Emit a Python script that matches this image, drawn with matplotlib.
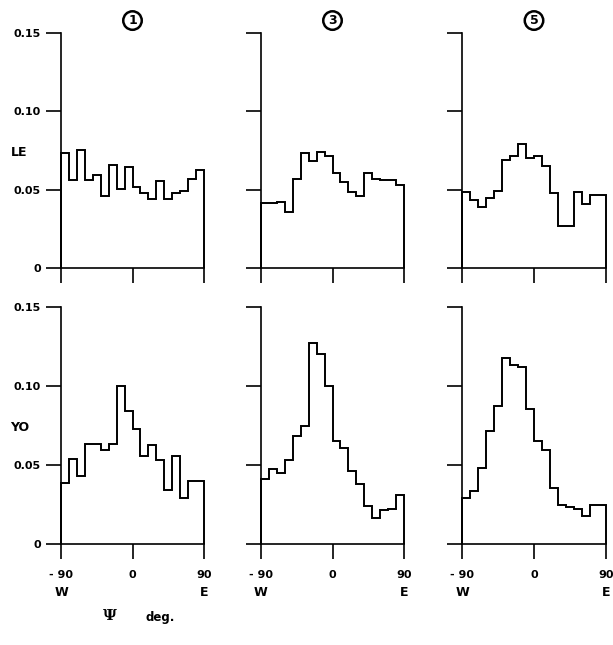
import numpy as np
import matplotlib
matplotlib.use("Agg")
import matplotlib.pyplot as plt

# 10-degree bins from -90 (W) to 90 (E)
edges = np.arange(-90, 91, 10)

le_1 = [0.0736, 0.0562, 0.0753, 0.0562, 0.0594, 0.0461, 0.0655, 0.0507, 0.0645,
        0.0514, 0.0478, 0.0440, 0.0556, 0.0440, 0.0478, 0.0493, 0.0571, 0.0624]
le_3 = [0.0414, 0.0414, 0.0423, 0.0359, 0.0571, 0.0731, 0.0683, 0.0740, 0.0714,
        0.0609, 0.0550, 0.0488, 0.0461, 0.0605, 0.0567, 0.0562, 0.0562, 0.0531]
le_5 = [0.0485, 0.0432, 0.0390, 0.0449, 0.0491, 0.0690, 0.0717, 0.0791, 0.0702,
        0.0717, 0.0654, 0.0481, 0.0270, 0.0270, 0.0485, 0.0411, 0.0468, 0.0464]
yo_1 = [0.0389, 0.0537, 0.0432, 0.0632, 0.0632, 0.0596, 0.0632, 0.1002, 0.0844,
        0.0728, 0.0554, 0.0627, 0.0533, 0.0339, 0.0554, 0.0291, 0.0400, 0.0396]
yo_3 = [0.0410, 0.0473, 0.0452, 0.0532, 0.0683, 0.0750, 0.1275, 0.1204, 0.1002,
        0.0651, 0.0605, 0.0462, 0.0378, 0.0242, 0.0162, 0.0216, 0.0221, 0.0309]
yo_5 = [0.0288, 0.0336, 0.0483, 0.0714, 0.0876, 0.1176, 0.1134, 0.1118, 0.0855,
        0.0651, 0.0597, 0.0355, 0.0246, 0.0235, 0.0221, 0.0176, 0.0246, 0.0246]

col_titles = ["1", "3", "5"]
row_labels = ["LE", "YO"]
rows = [[le_1, le_3, le_5], [yo_1, yo_3, yo_5]]
yticks = [0, 0.05, 0.10, 0.15]
ytick_labels = ["0", "0.05", "0.10", "0.15"]
xticks = [-90, 0, 90]
xtick_labels = ["- 90", "0", "90"]

plt.rcParams["font.family"] = ["DejaVu Sans"]
plt.rcParams["font.weight"] = "bold"

W, H = 613, 645
fig = plt.figure(figsize=(W / 100, H / 100), dpi=100)

lefts = [61, 261, 462]
widths = [143, 143, 144]
tops = [33, 307]
bottoms = [268, 544]

for r in range(2):
    for c in range(3):
        ax = fig.add_axes([lefts[c] / W, (H - bottoms[r]) / H,
                           widths[c] / W, (bottoms[r] - tops[r]) / H])
        ax.stairs(rows[r][c], edges, baseline=0, color="black", lw=1.4,
                  clip_on=False)
        ax.set_xlim(-90, 90)
        ax.set_ylim(0, 0.15)
        for s in ["top", "right"]:
            ax.spines[s].set_visible(False)
        for s in ["left", "bottom"]:
            ax.spines[s].set_linewidth(1.2)
        ax.tick_params(direction="out", length=11, width=1.2, labelsize=8)
        ax.tick_params(axis="x", pad=7.5)
        ax.set_xticks(xticks)
        ax.set_yticks(yticks)
        if c == 0:
            ax.set_yticklabels(ytick_labels)
            ax.text(-0.29, 0.49, row_labels[r], transform=ax.transAxes,
                    ha="center", va="center", fontsize=9, fontweight="bold")
        else:
            ax.set_yticklabels([])
        if r == 1:
            ax.set_xticklabels(xtick_labels)
            ax.text(-90, -0.205, "W", transform=ax.get_xaxis_transform(),
                    ha="center", va="center", fontsize=9, fontweight="bold")
            ax.text(90, -0.205, "E", transform=ax.get_xaxis_transform(),
                    ha="center", va="center", fontsize=9, fontweight="bold")
        else:
            ax.set_xticklabels([])
            ax.text(0, 1.053, col_titles[c], transform=ax.get_xaxis_transform(),
                    ha="center", va="center", fontsize=9, fontweight="bold",
                    bbox=dict(boxstyle="circle,pad=0.22", fc="none",
                              ec="black", lw=1.8))

fig.text(110 / W, 1 - 616 / H, "Ψ", ha="center", va="center", fontsize=11,
         family="DejaVu Serif")
fig.text(160 / W, 1 - 618 / H, "deg.", ha="center", va="center", fontsize=8.5,
         fontweight="bold")

fig.savefig("out.png", dpi=100)
